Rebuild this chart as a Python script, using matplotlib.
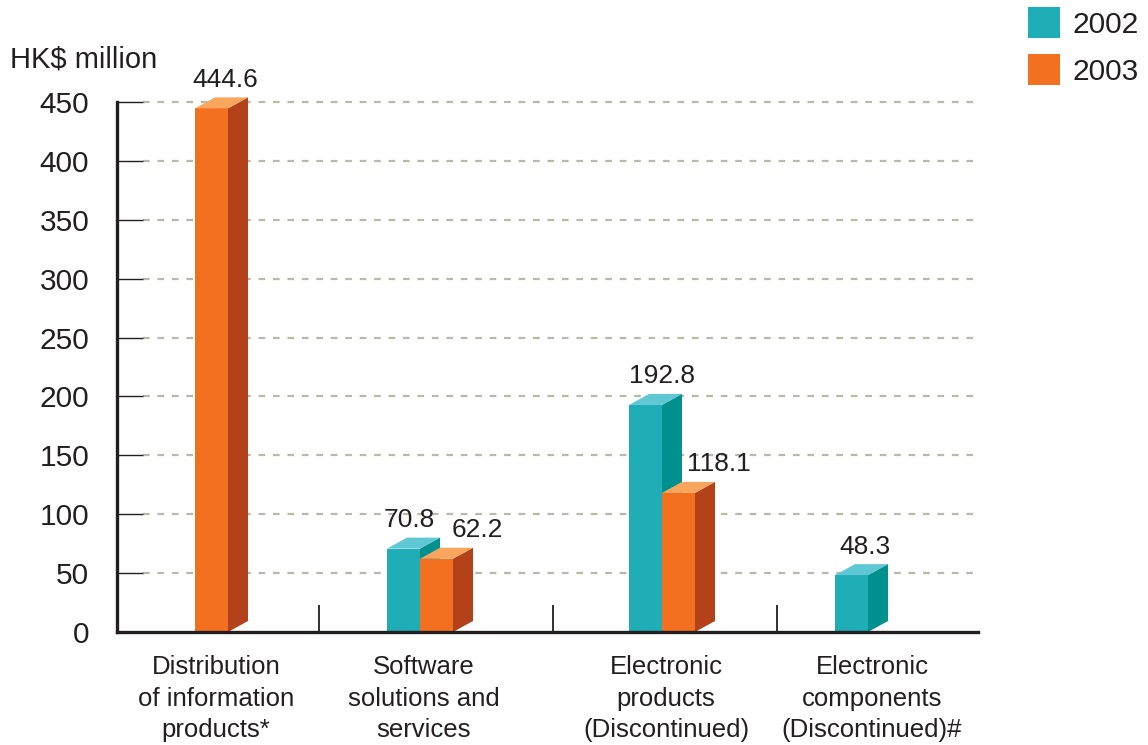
import matplotlib.pyplot as plt
from matplotlib.patches import Polygon, Rectangle
from matplotlib.transforms import offset_copy

plt.rcParams['font.family'] = ['Liberation Sans', 'DejaVu Sans']

# data
categories = ['Distribution\nof information\nproducts*',
              'Software\nsolutions and\nservices',
              'Electronic\nproducts\n(Discontinued)',
              'Electronic\ncomponents\n(Discontinued)#']
series = ['2002', '2003']
values_2002 = [0, 70.8, 192.8, 48.3]
values_2003 = [444.6, 62.2, 118.1, 0]
yticks = [0, 50, 100, 150, 200, 250, 300, 350, 400, 450]

# layout (x axis in pixel-like units)
group_x = [78, 303, 545, 751]      # join between the two bars of a group
label_x = [99, 307, 549, 755]
sep_x = [202, 436, 660]
lab_off = [[0, 3.5], [-4, 30.5], [6.5, 30], [3.5, 0]]
bw = 33
ddx = 20
ddy = 11 * 450 / 530

faces = {
    '2002': ('#1fadb6', '#60c7d4', '#00918f'),
    '2003': ('#f37021', '#f8a55e', '#b3411a'),
}
ink = '#231f20'

fig = plt.figure(figsize=(11.48, 7.45), dpi=100)
ax = fig.add_axes([117 / 1148, 113 / 745, 861 / 1148, 530 / 745])
ax.set_xlim(0, 861)
ax.set_ylim(0, 450)


def bar3d(x0, h, cols):
    front, top, side = cols
    ax.add_patch(Polygon([(x0, 0), (x0 + bw, 0), (x0 + bw, h), (x0, h)],
                         closed=True, fc=front, ec='none', clip_on=False, zorder=2))
    ax.add_patch(Polygon([(x0 + bw, 0), (x0 + bw + ddx, ddy), (x0 + bw + ddx, h + ddy), (x0 + bw, h)],
                         closed=True, fc=side, ec='none', clip_on=False, zorder=2))
    ax.add_patch(Polygon([(x0, h), (x0 + bw, h), (x0 + bw + ddx, h + ddy), (x0 + ddx, h + ddy)],
                         closed=True, fc=top, ec='none', clip_on=False, zorder=2))


# grid lines
for t in yticks[1:]:
    ax.plot([26, 856], [t, t], color='#b9b9a9', lw=1.6, ls=(0, (3, 3.5)),
            zorder=1, clip_on=False)

for i in range(len(categories)):
    pairs = [(values_2002[i], group_x[i] - bw, '2002'), (values_2003[i], group_x[i], '2003')]
    for j, (v, x0, s) in enumerate(pairs):
        if v <= 0:
            continue
        bar3d(x0, v, faces[s])
        tr = offset_copy(ax.transData, fig=fig, x=0, y=4, units='points')
        ax.text(x0 + bw / 2 + ddx / 2 + lab_off[i][j], v + ddy, f'{v:.1f}',
                transform=tr, ha='center', va='bottom', fontsize=19, color=ink)

# group separators
ax.vlines(sep_x, 0, 23, color=ink, lw=1.3, zorder=3)

for sp in ['top', 'right']:
    ax.spines[sp].set_visible(False)
for sp in ['left', 'bottom']:
    ax.spines[sp].set_linewidth(2.4)
    ax.spines[sp].set_color(ink)
    ax.spines[sp].set_zorder(4)

ax.set_yticks(yticks)
ax.set_yticklabels([str(t) for t in yticks])
ax.tick_params(axis='y', direction='in', length=19, width=1, color=ink,
               labelsize=21.5, labelcolor=ink, pad=20)
ax.set_xticks(label_x)
ax.set_xticklabels(categories, linespacing=1.4)
ax.tick_params(axis='x', length=0, labelsize=18.5, labelcolor=ink, pad=16.5)

fig.text(10 / 1148, 1 - 59 / 745, 'HK$ million', fontsize=21, color=ink,
         ha='left', va='center')

# legend
for k, s in enumerate(series):
    y0 = 7 + k * 47
    fig.patches.append(Rectangle((1028 / 1148, 1 - (y0 + 31) / 745), 32 / 1148, 31 / 745,
                                 transform=fig.transFigure, fc=faces[s][0], ec='none'))
    fig.text(1072 / 1148, 1 - (y0 + 18) / 745, s, fontsize=21.5, color=ink,
             ha='left', va='center')

fig.savefig('out.png', dpi=100)
